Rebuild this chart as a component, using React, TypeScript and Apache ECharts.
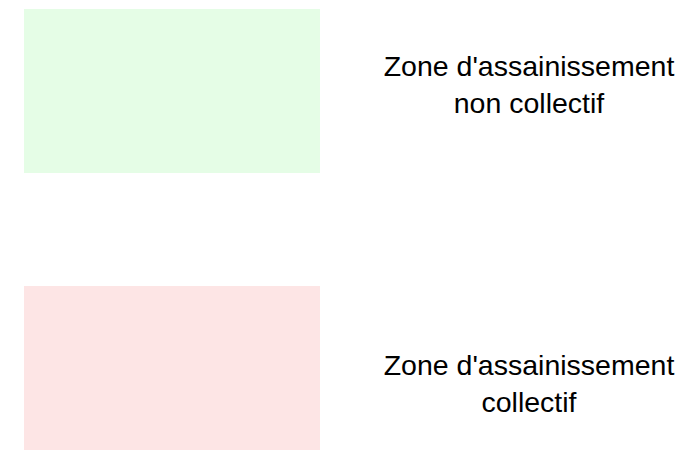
import React, { useEffect, useRef } from "react";
import * as echarts from "echarts";

const labels: string[] = ["Zone d'assainissement\nnon collectif", "Zone d'assainissement\ncollectif"];
const colors: string[] = ["#e5fde6", "#fde5e5"];
const rectTops: number[] = [9, 286];
const textCenters: number[] = [84, 383.5];

export default function App() {
  const ref = useRef<HTMLDivElement>(null);
  useEffect(() => {
    document.body.style.margin = "0";
    if (!ref.current) return;
    const chart = echarts.init(ref.current, null, { renderer: "svg" });
    const elements: any[] = [];
    labels.forEach((label, i) => {
      elements.push({
        type: "rect",
        shape: { x: 24, y: rectTops[i], width: 296, height: 164 },
        style: { fill: colors[i] },
      });
      elements.push({
        type: "text",
        x: 529,
        y: textCenters[i],
        style: {
          text: label,
          align: "center",
          verticalAlign: "middle",
          fontFamily: "'Liberation Sans', Arial, sans-serif",
          fontSize: 28.5,
          lineHeight: 37,
          fill: "#000000",
        },
      });
    });
    chart.setOption({
      animation: false,
      backgroundColor: "#ffffff",
      graphic: { elements },
    });
    return () => chart.dispose();
  }, []);
  return <div ref={ref} style={{ width: 689, height: 452 }} />;
}
